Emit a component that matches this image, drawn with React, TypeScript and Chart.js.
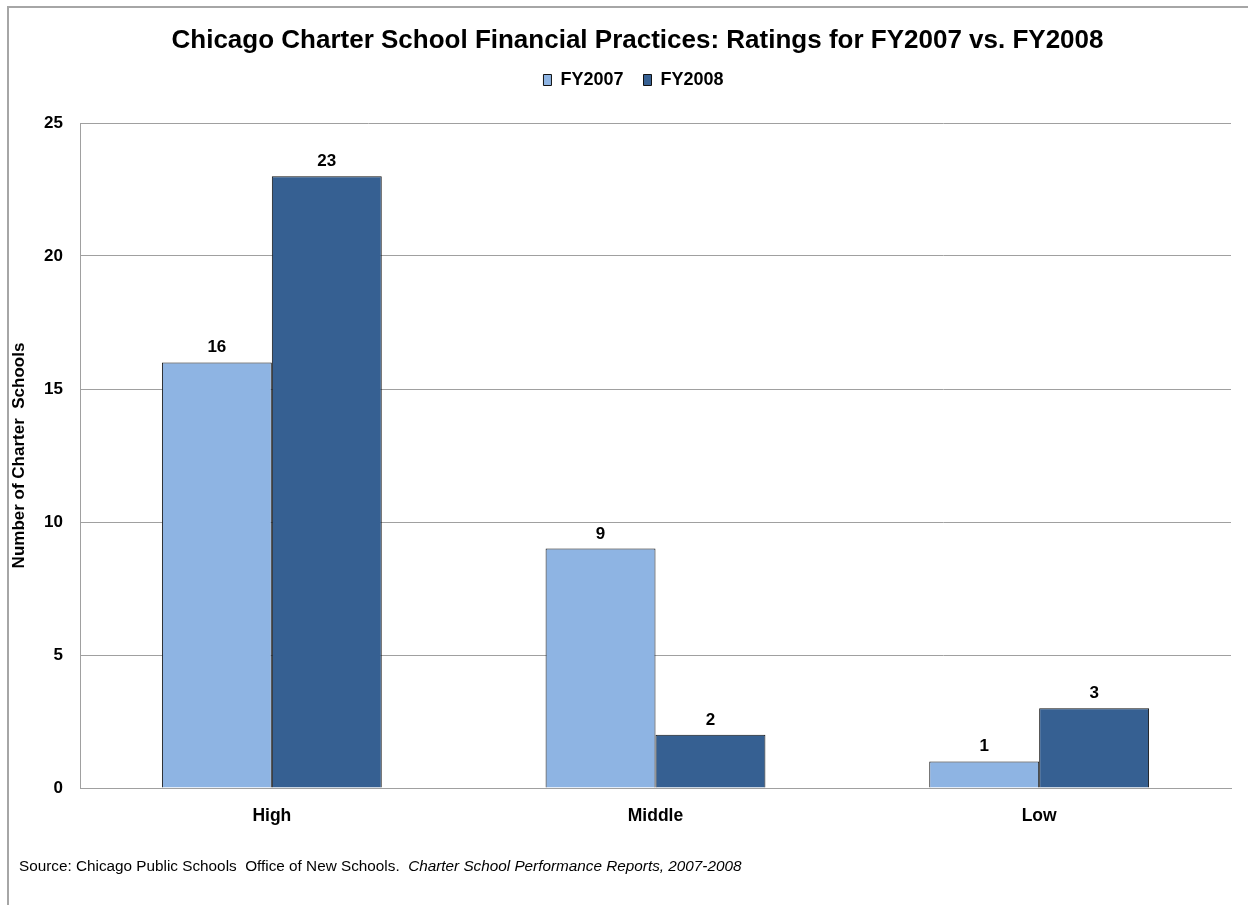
import React, { useEffect, useRef } from "react";
import { Chart, registerables } from "chart.js";

Chart.register(...registerables);

const categories = ["High", "Middle", "Low"];
const fy2007 = [16, 9, 1];
const fy2008 = [23, 2, 3];
const seriesNames = ["FY2007", "FY2008"];
const yTicks = [0, 5, 10, 15, 20, 25];
const titleText = "Chicago Charter School Financial Practices: Ratings for FY2007 vs. FY2008";
const yAxisTitle = "Number of Charter  Schools";
const sourcePlain = "Source: Chicago Public Schools  Office of New Schools.  ";
const sourceItalic = "Charter School Performance Reports, 2007-2008";

const FONT = "'Liberation Sans', Arial, sans-serif";

const framePlugin = {
  id: "frame",
  beforeDraw(chart: any) {
    const ctx = chart.ctx;
    ctx.save();
    ctx.fillStyle = "#ffffff";
    ctx.fillRect(0, 0, chart.width, chart.height);
    ctx.fillStyle = "#a6a6a6";
    ctx.fillRect(7, 6, chart.width - 7, 2);
    ctx.fillRect(7, 6, 2, chart.height - 6);
    ctx.restore();
  },
};

const spacerPlugin = {
  id: "spacer",
  beforeLayout(chart: any) {
    const lg = chart.legend;
    if (lg && !lg._patched) {
      const orig = lg.fit;
      lg.fit = function () {
        orig.call(this);
        this.height += 14;
      };
      lg._patched = true;
    }
  },
  afterLayout(chart: any) {
    const t = chart.titleBlock;
    if (t) {
      t.left += 18;
      t.right += 18;
    }
    const lg = chart.legend;
    if (lg) {
      lg.left += 14;
      lg.right += 14;
      lg.top -= 10;
      lg.bottom -= 10;
    }
  },
};

const labelsPlugin = {
  id: "valueLabels",
  afterDatasetsDraw(chart: any) {
    const ctx = chart.ctx;
    ctx.save();
    ctx.font = `bold 17px ${FONT}`;
    ctx.fillStyle = "#000";
    ctx.textAlign = "center";
    ctx.textBaseline = "alphabetic";
    chart.data.datasets.forEach((ds: any, i: number) => {
      const meta = chart.getDatasetMeta(i);
      meta.data.forEach((el: any, j: number) => {
        ctx.fillText(String(ds.data[j]), el.x, el.y - 10);
      });
    });
    ctx.restore();
  },
};

const sourcePlugin = {
  id: "source",
  afterDraw(chart: any) {
    const ctx = chart.ctx;
    ctx.save();
    ctx.fillStyle = "#000";
    ctx.textBaseline = "alphabetic";
    ctx.textAlign = "left";
    ctx.font = `15.3px ${FONT}`;
    ctx.fillText(sourcePlain, 19, 871);
    const w = ctx.measureText(sourcePlain).width;
    ctx.font = `italic 15.3px ${FONT}`;
    ctx.fillText(sourceItalic, 19 + w, 871);
    ctx.restore();
  },
};

export default function App() {
  const ref = useRef<HTMLCanvasElement>(null);
  useEffect(() => {
    if (!ref.current) return;
    const chart = new Chart(ref.current, {
      type: "bar",
      data: {
        labels: categories,
        datasets: [
          {
            label: seriesNames[0],
            data: fy2007,
            backgroundColor: "#8eb4e3",
            borderColor: "#111111",
            borderWidth: 1,
            categoryPercentage: 0.573,
            barPercentage: 1,
          },
          {
            label: seriesNames[1],
            data: fy2008,
            backgroundColor: "#366092",
            borderColor: "#111111",
            borderWidth: 1,
            categoryPercentage: 0.573,
            barPercentage: 1,
          },
        ],
      },
      options: {
        responsive: false,
        animation: false,
        devicePixelRatio: 1,
        layout: { padding: { left: 8, right: 17, top: 0, bottom: 67 } },
        plugins: {
          title: {
            display: true,
            text: titleText,
            color: "#000",
            font: { family: FONT, size: 26, weight: "bold", lineHeight: 1.2 },
            padding: { top: 25.4, bottom: 4.4 },
          },
          legend: {
            display: true,
            position: "top",
            labels: {
              color: "#000",
              font: { family: FONT, size: 18, weight: "bold" },
              boxWidth: 8,
              boxHeight: 11,
              padding: 20,
            },
          },
          tooltip: { enabled: false },
        },
        scales: {
          x: {
            grid: { display: false, drawTicks: false },
            border: { display: true, color: "#a0a0a0", width: 1 },
            ticks: {
              color: "#000",
              font: { family: FONT, size: 17.5, weight: "bold" },
              padding: 18,
            },
            afterFit(scale: any) {
              scale.height = 50;
            },
          },
          y: {
            min: 0,
            max: 25,
            afterBuildTicks(scale: any) {
              scale.ticks = yTicks.map((v) => ({ value: v }));
            },
            grid: { color: "#a0a0a0", drawTicks: false, lineWidth: 1 },
            border: { display: true, color: "#a0a0a0", width: 1 },
            ticks: {
              color: "#000",
              font: { family: FONT, size: 17, weight: "bold" },
              padding: 17,
            },
            title: {
              display: true,
              text: yAxisTitle,
              color: "#000",
              font: { family: FONT, size: 17, weight: "bold" },
              padding: 1,
            },
            afterFit(scale: any) {
              scale.width = 72;
            },
          },
        },
      },
      plugins: [framePlugin, spacerPlugin, labelsPlugin, sourcePlugin],
    } as any);
    return () => chart.destroy();
  }, []);
  return (
    <div style={{ position: "absolute", left: 0, top: 0, width: 1248, height: 905 }}>
      <canvas ref={ref} width={1248} height={905} style={{ display: "block" }} />
    </div>
  );
}
